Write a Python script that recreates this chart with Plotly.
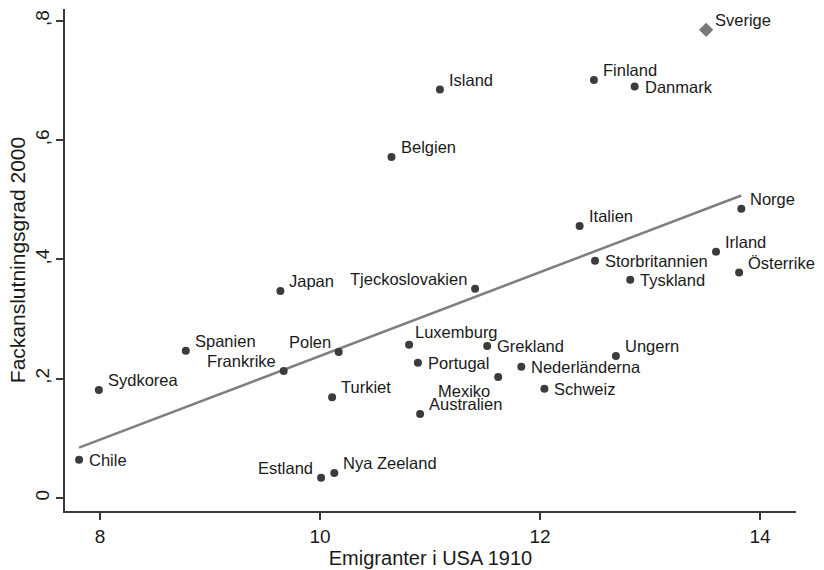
import numpy as np
import plotly.graph_objects as go

countries = ["Sverige", "Finland", "Danmark", "Island", "Belgien", "Norge", "Italien",
             "Irland", "Storbritannien", "Österrike", "Tyskland", "Japan", "Tjeckoslovakien",
             "Spanien", "Polen", "Luxemburg", "Grekland", "Ungern", "Portugal",
             "Nederländerna", "Mexiko", "Schweiz", "Australien", "Frankrike", "Sydkorea",
             "Turkiet", "Chile", "Estland", "Nya Zeeland"]
emigranter = [13.51, 12.49, 12.86, 11.09, 10.65, 13.83, 12.36,
              13.60, 12.50, 13.81, 12.82, 9.64, 11.41,
              8.78, 10.17, 10.81, 11.52, 12.69, 10.89,
              11.83, 11.62, 12.04, 10.91, 9.67, 7.99,
              10.11, 7.81, 10.01, 10.13]
fackgrad = [0.785, 0.701, 0.690, 0.685, 0.572, 0.485, 0.456,
            0.413, 0.398, 0.378, 0.366, 0.347, 0.351,
            0.247, 0.245, 0.257, 0.255, 0.238, 0.227,
            0.220, 0.203, 0.183, 0.141, 0.213, 0.181,
            0.169, 0.064, 0.034, 0.042]
highlight = "Sverige"

xtick_vals = [8, 10, 12, 14]
ytick_vals = [0, 0.2, 0.4, 0.6, 0.8]
ytick_labels = ["0", ",2", ",4", ",6", ",8"]

# marker label clock positions (Stata style)
label_pos = {"Sverige": 2, "Finland": 2, "Danmark": 3, "Island": 2, "Belgien": 2,
             "Norge": 2, "Italien": 2, "Irland": 2, "Storbritannien": 3, "Österrike": 2,
             "Tyskland": 3, "Japan": 2, "Tjeckoslovakien": 10, "Spanien": 2, "Polen": 10,
             "Luxemburg": 1, "Grekland": 3, "Ungern": 2, "Portugal": 3, "Nederländerna": 3,
             "Mexiko": 7, "Schweiz": 3, "Australien": 2, "Frankrike": 10, "Sydkorea": 2,
             "Turkiet": 2, "Chile": 3, "Estland": 10, "Nya Zeeland": 2}
clock = {3: ("left", 8, 0), 2: ("left", 7, 10), 1: ("left", 4, 13),
         10: ("right", -6, 10), 9: ("right", -7, 0), 7: ("right", -6, -14)}

FONT = "Liberation Sans, Arial, sans-serif"
x = np.array(emigranter)
y = np.array(fackgrad)
mask = np.array([c != highlight for c in countries])

fig = go.Figure()

# linear fit across the data range
b1, b0 = np.polyfit(x, y, 1)
xf = np.array([x.min(), x.max()])
fig.add_trace(go.Scatter(x=xf, y=b0 + b1 * xf, mode="lines",
                         line=dict(color="#7f7f7f", width=2.5), hoverinfo="skip",
                         showlegend=False))

fig.add_trace(go.Scatter(x=x[mask], y=y[mask], mode="markers",
                         marker=dict(size=8, color="#3c3c3c"), showlegend=False))
fig.add_trace(go.Scatter(x=x[~mask], y=y[~mask], mode="markers",
                         marker=dict(size=11, color="#7a7a7a", symbol="diamond"),
                         showlegend=False))

for c, xi, yi in zip(countries, emigranter, fackgrad):
    anc, dx, dy = clock[label_pos[c]]
    fig.add_annotation(x=xi, y=yi, text=c, showarrow=False, xanchor=anc, yanchor="middle",
                       xshift=dx, yshift=dy, font=dict(family=FONT, size=16.5, color="#1a1a1a"))

axis_common = dict(showline=True, linecolor="#3a3a3a", linewidth=1.5, ticks="outside",
                   ticklen=7, tickwidth=1.5, tickcolor="#3a3a3a", showgrid=False,
                   zeroline=False, automargin=False,
                   tickfont=dict(family=FONT, size=19, color="#1a1a1a"))

fig.update_layout(
    width=824, height=570,
    margin=dict(l=65, r=28, t=9, b=59),
    paper_bgcolor="white", plot_bgcolor="white",
    xaxis=dict(range=[7.682, 14.327], tickvals=xtick_vals,
               title=dict(text="Emigranter i USA 1910", standoff=1,
                          font=dict(family=FONT, size=20, color="#1a1a1a")),
               **axis_common),
    yaxis=dict(range=[-0.0218, 0.820], tickvals=ytick_vals, ticktext=ytick_labels,
               tickangle=-90, ticklabelstandoff=0,
               title=dict(text="Fackanslutningsgrad 2000", standoff=0,
                          font=dict(family=FONT, size=21, color="#1a1a1a")),
               **axis_common),
)

fig.write_html("out.html", config={"displayModeBar": False},
               post_script="document.body.style.margin='0';document.body.style.overflow='hidden';")
